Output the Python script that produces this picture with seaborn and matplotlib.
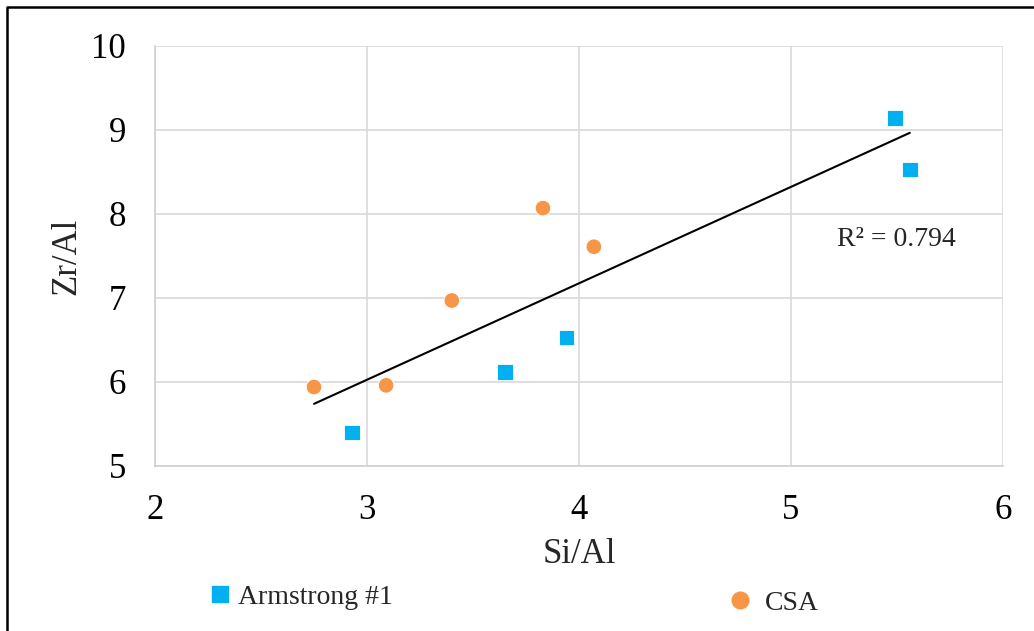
import numpy as np
import pandas as pd
import matplotlib
matplotlib.use("Agg")
import matplotlib.pyplot as plt
from matplotlib.lines import Line2D
import seaborn as sns

# ------------------------------
# Data
# ------------------------------
armstrong_si_al = [2.93, 3.65, 3.94, 5.49, 5.56]
armstrong_zr_al = [5.40, 6.12, 6.53, 9.14, 8.53]
csa_si_al = [2.75, 3.09, 3.40, 3.83, 4.07]
csa_zr_al = [5.94, 5.96, 6.97, 8.07, 7.61]
series_names = ["Armstrong #1", "CSA"]
r2_label = "R\u00b2 = 0.794"

df = pd.DataFrame({
    "Si/Al": armstrong_si_al + csa_si_al,
    "Zr/Al": armstrong_zr_al + csa_zr_al,
    "Well": [series_names[0]] * len(armstrong_si_al) + [series_names[1]] * len(csa_si_al),
})

colors = {"Armstrong #1": "#00B0F0", "CSA": "#F79646"}
markers = {"Armstrong #1": "s", "CSA": "o"}

sns.set_style("white")
plt.rcParams["font.family"] = ["Liberation Serif", "DejaVu Serif"]

fig = plt.figure(figsize=(10.34, 6.31), dpi=100)
ax = fig.add_axes([0.1499, 0.2615, 0.8202, 0.6656])

sns.scatterplot(data=df, x="Si/Al", y="Zr/Al", hue="Well", style="Well",
                palette=colors, markers=markers, s=125, linewidth=0.6,
                ax=ax, legend=False, zorder=3)

# linear trendline on all points
sns.regplot(data=df, x="Si/Al", y="Zr/Al", scatter=False, ci=None, truncate=True,
            line_kws={"color": "black", "lw": 1.5, "zorder": 2}, ax=ax)

ax.set_xlim(2, 6)
ax.set_ylim(5, 10)
ax.set_xticks([2, 3, 4, 5, 6])
ax.set_yticks([5, 6, 7, 8, 9, 10])
ax.grid(True, color="#d9d9d9", lw=1.2, zorder=0)
ax.set_axisbelow(True)
for side in ["top", "right"]:
    ax.spines[side].set_visible(False)
for side in ["left", "bottom"]:
    ax.spines[side].set_color("#d0d0d0")
    ax.spines[side].set_linewidth(1.2)
ax.tick_params(axis="both", length=0, labelsize=25, colors="black")
ax.tick_params(axis="x", pad=20)
ax.tick_params(axis="y", pad=21)

ax.set_xlabel("Si/Al", fontsize=25)
ax.set_ylabel("Zr/Al", fontsize=25)
ax.xaxis.set_label_coords(0.5, -0.172)
ax.yaxis.set_label_coords(-0.085, 0.5)

ax.text(5.217, 7.62, r2_label, fontsize=20, va="baseline", ha="left")

# legend entries, placed like the original
h1 = Line2D([], [], ls="none", marker="s", ms=12, color=colors["Armstrong #1"])
h2 = Line2D([], [], ls="none", marker="o", ms=12, color=colors["CSA"])
fig.legend(handles=[h1], labels=[series_names[0]], loc="center left",
           bbox_to_anchor=(209 / 1034, 1 - 597 / 631), frameon=False, fontsize=20,
           borderpad=0, borderaxespad=0, handlelength=0.8, handletextpad=0.25)
fig.legend(handles=[h2], labels=[series_names[1]], loc="center left",
           bbox_to_anchor=(729 / 1034, 1 - 603 / 631), frameon=False, fontsize=20,
           borderpad=0, borderaxespad=0, handlelength=0.8, handletextpad=0.5)

# black frame (top and left edges visible in the original)
fig.add_artist(Line2D([0.0068, 0.0068, 1.0], [0.0, 0.989, 0.989],
                      transform=fig.transFigure, color="black", lw=1.8))

fig.savefig("out.png", dpi=100)
